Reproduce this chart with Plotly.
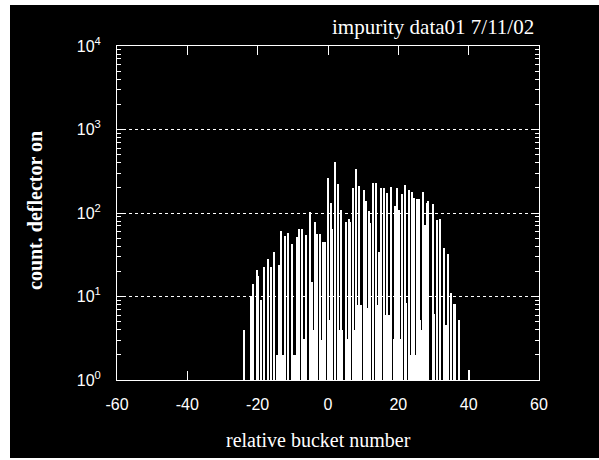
import plotly.graph_objects as go

# spikes: relative bucket number -> count (deflector on)
spike_x = [-24.0, -22.0, -21.2, -20.3, -19.9, -19.1, -18.2, -16.9, -16.1, -15.2,
           -14.0, -13.2, -12.2, -11.4, -10.2, -8.9, -8.2, -7.4, -6.1, -5.1,
           -4.6, -3.8, -3.2, -2.3, -1.3, -0.8, 0.0, 0.8, 1.2, 2.1,
           3.0, 3.8, 5.1, 5.9, 6.4, 7.1, 8.0, 8.7, 10.2, 10.9,
           11.7, 12.1, 12.9, 13.6, 14.4, 15.2, 15.9, 16.7, 18.0, 19.0,
           19.7, 20.3, 21.0, 21.8, 23.1, 23.9, 24.6, 25.2, 25.9, 26.9,
           27.5, 28.2, 28.6, 29.9, 31.1, 31.8, 33.0, 34.1, 34.9, 35.8,
           36.2, 37.2, 40.0]
spike_y = [4.0, 10.2, 14.1, 21, 17.6, 9.1, 22.4, 28, 22.4, 34.4,
           23.8, 61, 53, 58, 42.6, 51, 64, 64, 54, 104,
           15, 79, 56, 56, 45, 45, 260, 133, 65, 404,
           222, 110, 79, 84, 79, 197, 333, 212, 188, 141,
           107, 75, 231, 231, 34, 197, 197, 175, 207, 121,
           197, 110, 169, 216, 188, 180, 150, 146, 146, 180,
           72, 131, 141, 129, 82, 84, 38, 32, 11.1, 8.1,
           8.1, 5.2, 1.3]

# low-count background buckets
base_x = [-14.5, -12.6, -9.6, -6.9, -4.5, -1.8, 0.3, 2.9, 3.7, 5.3,
          6.0, 7.2, 8.3, 9.2, 10.5, 11.4, 14.3, 15.0, 16.2, 17.0,
          17.7, 18.9, 19.7, 20.3, 21.9, 23.6, 24.4, 25.0, 26.1, 26.9,
          27.6, 30.1, 33.3]
base_y = [2.0, 2.0, 2.0, 3.1, 4.0, 3.0, 5.2, 4.0, 4.0, 3.1,
          3.1, 4.0, 7.9, 7.9, 4.0, 7.2, 7.9, 7.9, 6.0, 6.0,
          6.0, 3.1, 3.1, 3.1, 8.3, 2.0, 2.0, 2.0, 5.2, 4.0,
          4.0, 6.2, 4.6]

y_tickvals = [1, 10, 100, 1000, 10000]
y_ticktext = ["10<sup>0</sup>", "10<sup>1</sup>", "10<sup>2</sup>", "10<sup>3</sup>", "10<sup>4</sup>"]
y_minor = [m * d for d in (1, 10, 100, 1000) for m in range(2, 10)]
x_ticks = [-60, -40, -20, 0, 20, 40, 60]
x_ticktext = ["-60", "-40", "-20", "0", "20", "40", "60"]

fig = go.Figure()
fig.add_trace(go.Bar(x=base_x, y=base_y, width=0.85, marker=dict(color="white", line=dict(width=0)),
                     showlegend=False))
fig.add_trace(go.Bar(x=spike_x, y=spike_y, width=0.34, marker=dict(color="white", line=dict(width=0)),
                     showlegend=False))

L, R, T, B = 117, 60, 46, 80
W, H = 599, 460
pw, ph = W - L - R, H - T - B

fig.update_layout(
    width=W, height=H,
    margin=dict(l=L, r=R, t=T, b=B),
    paper_bgcolor="white",
    plot_bgcolor="black",
    barmode="overlay",
    bargap=0,
    shapes=[dict(type="rect", xref="paper", yref="paper", layer="below",
                 x0=(10 - L) / pw, x1=(W + 5 - L) / pw,
                 y0=-(458 - (H - B)) / ph, y1=((H - B) - 5) / ph,
                 fillcolor="black", line=dict(width=0))],
    annotations=[
        dict(text="impurity data01 7/11/02", xref="paper", yref="paper",
             x=(536 - L) / pw, y=((H - B) - 27) / ph, xanchor="right", yanchor="middle",
             showarrow=False, font=dict(family="Liberation Serif", size=21, color="white")),
        dict(text="<b>count. deflector on</b>", xref="paper", yref="paper",
             x=(35 - L) / pw, y=((H - B) - 211) / ph, xanchor="center", yanchor="middle",
             textangle=-90, showarrow=False,
             font=dict(family="Liberation Serif", size=20, color="white")),
        dict(text="relative bucket number", xref="paper", yref="paper",
             x=(318 - L) / pw, y=((H - B) - 440) / ph, xanchor="center", yanchor="middle",
             showarrow=False, font=dict(family="Liberation Serif", size=20, color="white")),
    ],
)
fig.update_xaxes(range=[-60, 60], tickvals=x_ticks, ticktext=x_ticktext, ticks="inside", ticklen=9,
                 tickcolor="white",
                 showline=True, linecolor="white", linewidth=1, mirror="ticks", showgrid=False,
                 zeroline=False, ticklabelstandoff=10,
                 tickfont=dict(family="Liberation Sans", size=16, color="white"))
fig.update_yaxes(type="log", range=[0, 4], tickvals=y_tickvals, ticktext=y_ticktext,
                 ticks="inside", ticklen=7, tickcolor="white",
                 minor=dict(tickvals=y_minor, ticks="inside", ticklen=4, tickcolor="white", showgrid=False),
                 showline=True, linecolor="white", linewidth=1, mirror="ticks",
                 showgrid=True, gridcolor="white", griddash="dot", gridwidth=1,
                 zeroline=False, ticklabelstandoff=12,
                 tickfont=dict(family="Liberation Sans", size=16, color="white"))

fig.write_html("out.html", config={"displayModeBar": False},
               post_script="document.body.style.margin='0px';document.body.style.overflow='hidden';")
